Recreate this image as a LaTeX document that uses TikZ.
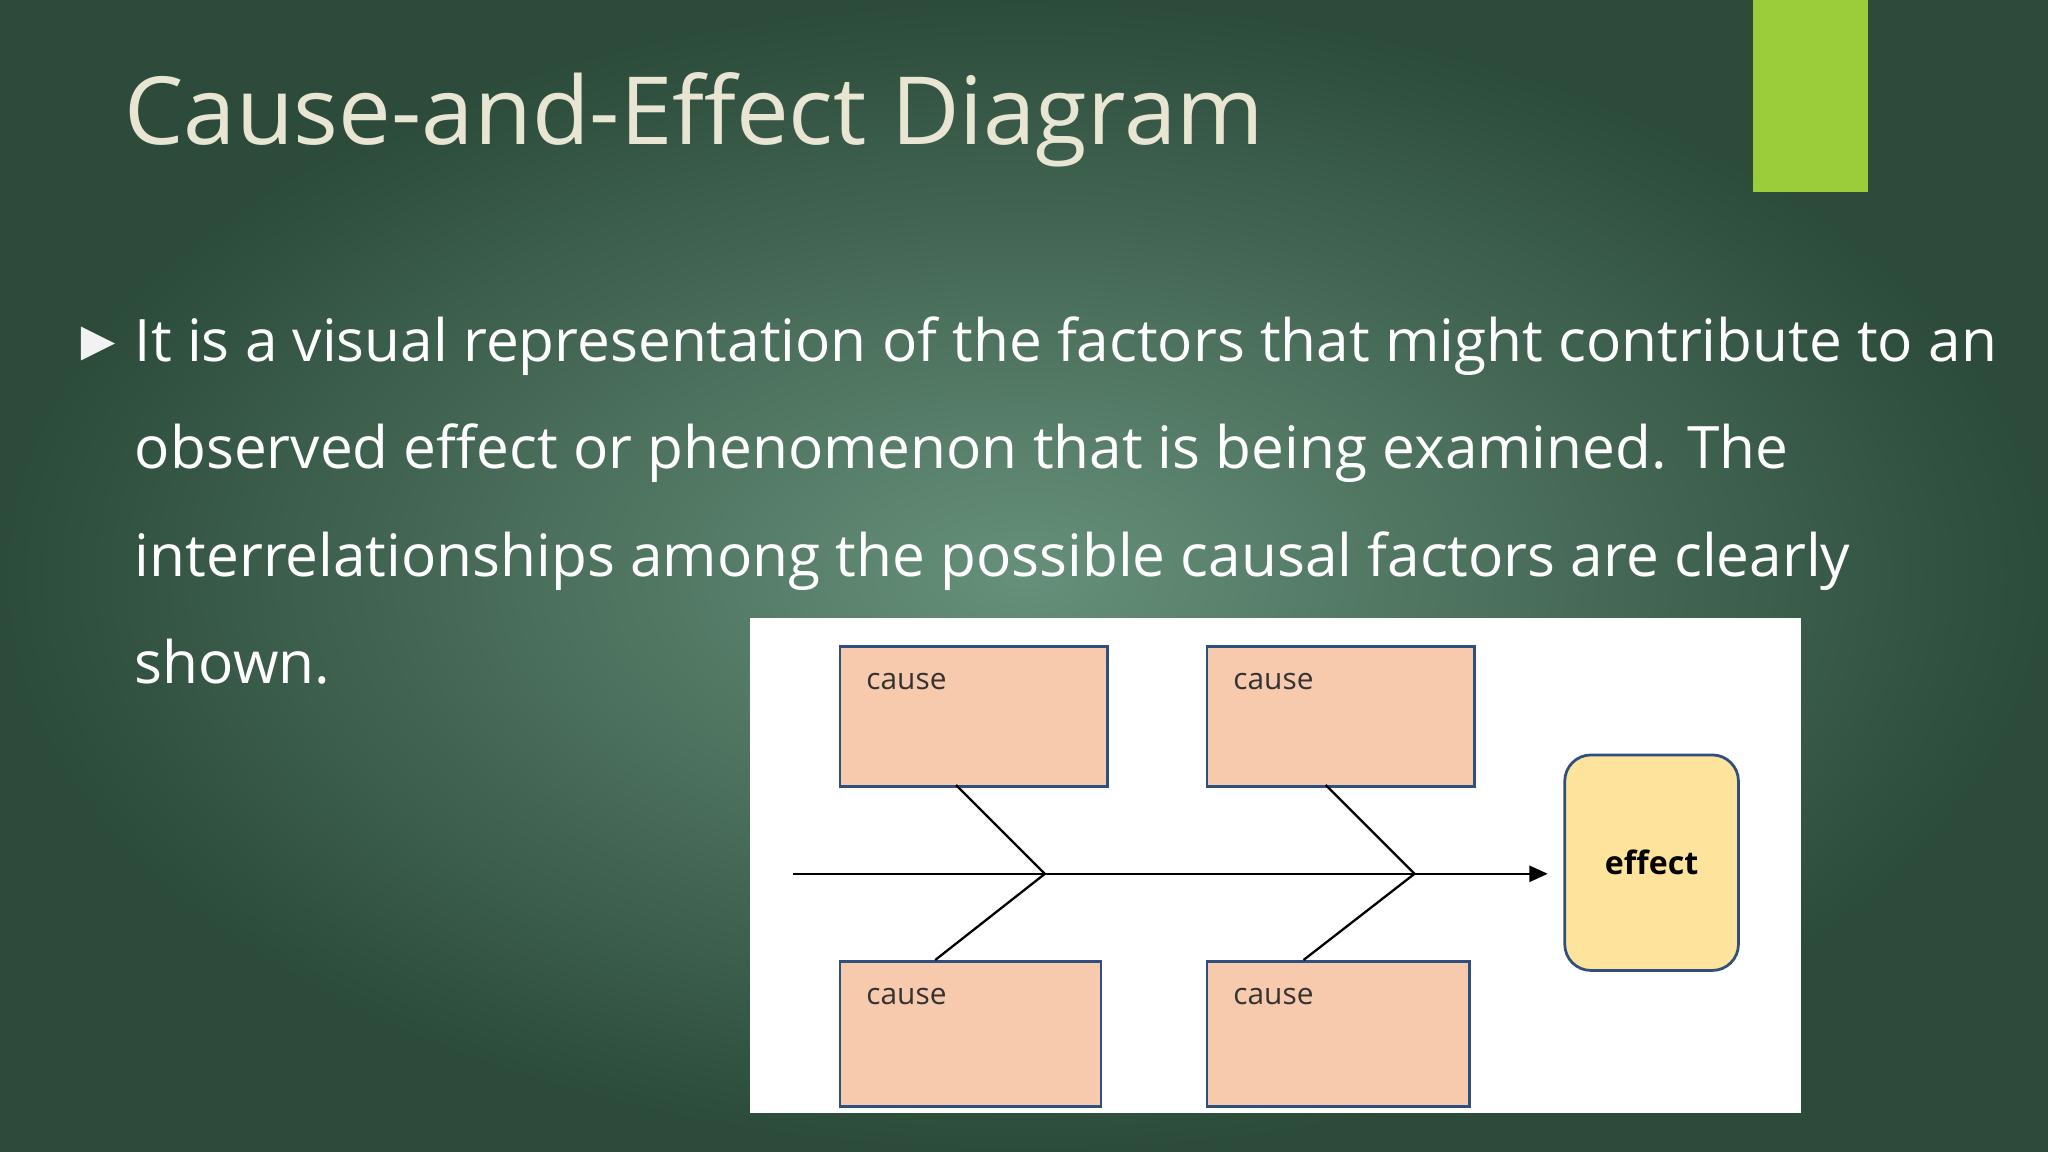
\documentclass[tikz,border=0pt]{standalone}
\usepackage{fontspec}
\setmainfont{Open Sans}
\usetikzlibrary{arrows.meta}
\definecolor{bgout}{HTML}{2C4B3A}
\definecolor{bgin}{HTML}{66907A}
\definecolor{lime}{HTML}{9ACD3A}
\definecolor{cbox}{HTML}{F7C9AD}
\definecolor{cedge}{HTML}{2F4F7F}
\definecolor{ebox}{HTML}{FDE39B}
\definecolor{titlec}{HTML}{E8E6D2}
\tikzset{
  causebox/.style={draw=cedge,line width=1.2pt,fill=cbox,anchor=north west,minimum width=4.1cm,minimum height=2.14cm,inner sep=0pt},
  causetxt/.style={anchor=north west,font=\fontsize{13}{15}\selectfont,text=black!80,inner sep=0pt},
  bodytxt/.style={anchor=base west,font=\fontsize{25.5}{30}\selectfont,text=white,inner sep=0pt},
  bone/.style={line width=1pt,black}
}
\begin{document}
\begin{tikzpicture}[x=0.02cm,y=-0.02cm]
\useasboundingbox (0,0) rectangle (1568,882);
\shade[inner color=bgin,outer color=bgout] (0,0) rectangle (1568,882);
\fill[lime] (1342,0) rectangle (1430,147);
\node[anchor=base west,font=\fontsize{41}{48}\selectfont,text=titlec,inner sep=0pt] (title) at (95,111) {Cause-and-Effect Diagram};
\fill[white!90!gray] (62,250) -- (88,263) -- (62,276) -- cycle;
\node[bodytxt] (l1) at (103,277) {It is a visual representation of the factors that might contribute to an};
\node[bodytxt] (l2) at (103,359) {observed effect or phenomenon that is being examined. The};
\node[bodytxt] (l3) at (103,441) {interrelationships among the possible causal factors are clearly};
\node[bodytxt] (l4) at (103,523) {shown.};
\fill[white] (574,473) rectangle (1379,852);
\node[causebox] (c1) at (642,494) {};
\node[causebox] (c2) at (923,494) {};
\node[causebox,minimum width=4.0cm,minimum height=2.22cm] (c3) at (642,735) {};
\node[causebox,minimum width=4.02cm,minimum height=2.22cm] (c4) at (923,735) {};
\foreach \n/\x/\y in {t1/663/515,t2/944/515,t3/663/756,t4/944/756}
  \node[causetxt] (\n) at (\x,\y) {cause};
\node[draw=cedge,line width=1.2pt,fill=ebox,rounded corners=0.4cm,minimum width=2.66cm,minimum height=3.3cm,font=\bfseries\fontsize{14}{16}\selectfont] (eff) at (1264.5,660.5) {effect};
\coordinate (s0) at (607,669);
\coordinate (s1) at (1185,669);
\coordinate (j1) at (800,669);
\coordinate (j2) at (1083,669);
\coordinate (a1) at (732,601);
\coordinate (a2) at (1015,601);
\coordinate (b1) at (716,735);
\coordinate (b2) at (998,735);
\draw[bone,-{Triangle[length=8pt,width=7pt]}] (s0) -- (s1);
\draw[bone] (a1) -- (j1) -- (b1);
\draw[bone] (a2) -- (j2) -- (b2);
\end{tikzpicture}
\end{document}
